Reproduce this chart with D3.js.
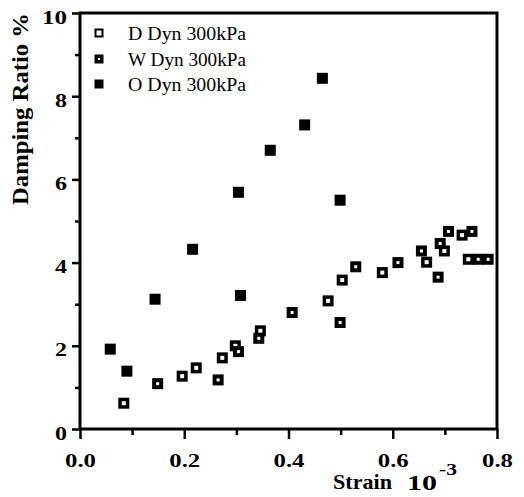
<!DOCTYPE html>
<html>
<head>
<meta charset="utf-8">
<script src="https://cdn.jsdelivr.net/npm/d3@7"></script>
<style>
  body { margin: 0; background: #fff; }
  svg { display: block; }
  text { font-family: "Liberation Serif", "Times New Roman", Times, "DejaVu Serif", serif; fill: #000; }
</style>
</head>
<body>
<svg id="chart" width="524" height="497"></svg>
<script>
const seriesNames = ["D Dyn 300kPa", "W Dyn 300kPa", "O Dyn 300kPa"];

// D Dyn 300kPa
const dStrain = [0.084, 0.196, 0.223, 0.273, 0.298, 0.346, 0.476, 0.503, 0.580, 0.665, 0.699, 0.733, 0.745];
const dDamp   = [0.62, 1.27, 1.47, 1.71, 2.00, 2.36, 3.08, 3.58, 3.76, 4.01, 4.28, 4.66, 4.08];

// W Dyn 300kPa
const wStrain = [0.149, 0.265, 0.304, 0.343, 0.407, 0.499, 0.529, 0.610, 0.655, 0.687, 0.691, 0.707, 0.752, 0.764, 0.783];
const wDamp   = [1.09, 1.18, 1.86, 2.18, 2.80, 2.56, 3.90, 4.00, 4.28, 3.65, 4.46, 4.75, 4.75, 4.08, 4.08];

// O Dyn 300kPa
const oStrain = [0.058, 0.090, 0.144, 0.216, 0.304, 0.308, 0.365, 0.431, 0.465, 0.499];
const oDamp   = [1.92, 1.39, 3.12, 4.32, 5.69, 3.21, 6.70, 7.31, 8.43, 5.50];

const xMajor = [0, 0.2, 0.4, 0.6, 0.8];
const yMajor = [0, 2, 4, 6, 8, 10];

const svg = d3.select("#chart");
const x = d3.scaleLinear().domain([0, 0.8]).range([80, 497]);
const y = d3.scaleLinear().domain([0, 10]).range([429, 13]);
const serif = "'Liberation Serif', 'Times New Roman', Times, 'DejaVu Serif', serif";

// frame
svg.append("rect")
  .attr("x", x(0)).attr("y", y(10))
  .attr("width", x(0.8) - x(0)).attr("height", y(0) - y(10))
  .attr("fill", "none").attr("stroke", "#000").attr("stroke-width", 3);

// x minor ticks
svg.append("g")
  .attr("transform", `translate(0,${y(0)})`)
  .call(d3.axisBottom(x).tickValues(d3.range(1, 8, 2).map(d => d / 10)).tickSize(6).tickFormat(""))
  .call(g => g.select(".domain").remove())
  .call(g => g.selectAll("line").attr("stroke-width", 2.5));

// x major ticks + labels
svg.append("g")
  .attr("transform", `translate(0,${y(0)})`)
  .attr("font-family", serif)
  .call(d3.axisBottom(x).tickValues(xMajor).tickSize(10).tickFormat(d3.format(".1f")))
  .call(g => g.attr("font-family", serif))
  .call(g => g.select(".domain").remove())
  .call(g => g.selectAll("line").attr("stroke-width", 2.5))
  .call(g => g.selectAll("text")
    .attr("y", 38).attr("dy", null)
    .attr("font-size", 18).attr("font-weight", "bold")
    .attr("textLength", 31).attr("lengthAdjust", "spacingAndGlyphs"));

// y minor ticks
svg.append("g")
  .attr("transform", `translate(${x(0)},0)`)
  .call(d3.axisLeft(y).tickValues([1, 3, 5, 7, 9]).tickSize(5).tickFormat(""))
  .call(g => g.select(".domain").remove())
  .call(g => g.selectAll("line").attr("stroke-width", 2.5));

// y major ticks + labels
svg.append("g")
  .attr("transform", `translate(${x(0)},0)`)
  .call(d3.axisLeft(y).tickValues(yMajor).tickSize(8).tickFormat(d3.format("d")))
  .call(g => g.attr("font-family", serif))
  .call(g => g.select(".domain").remove())
  .call(g => g.selectAll("line").attr("stroke-width", 2.5))
  .call(g => g.selectAll("text")
    .attr("x", -13).attr("y", 10).attr("dy", null)
    .attr("font-size", 19).attr("font-weight", "bold")
    .attr("textLength", d => d >= 10 ? 25 : 12).attr("lengthAdjust", "spacingAndGlyphs"));

// axis titles
svg.append("text")
  .attr("transform", "translate(28,109) rotate(-90)")
  .attr("text-anchor", "middle")
  .attr("font-size", 24).attr("font-weight", "bold")
  .attr("textLength", 192).attr("lengthAdjust", "spacingAndGlyphs")
  .text("Damping Ratio %");

svg.append("text")
  .attr("x", 333).attr("y", 489)
  .attr("font-size", 22).attr("font-weight", "bold")
  .attr("textLength", 59).attr("lengthAdjust", "spacingAndGlyphs")
  .text("Strain");
svg.append("text")
  .attr("x", 407).attr("y", 490)
  .attr("font-size", 21).attr("font-weight", "bold")
  .attr("textLength", 30).attr("lengthAdjust", "spacingAndGlyphs")
  .text("10");
svg.append("text")
  .attr("x", 439).attr("y", 475)
  .attr("font-size", 17).attr("font-weight", "bold")
  .attr("textLength", 18).attr("lengthAdjust", "spacingAndGlyphs")
  .text("-3");

// markers
function marker(g, cx, cy, size, inner) {
  g.append("rect")
    .attr("x", cx - size / 2).attr("y", cy - size / 2)
    .attr("width", size).attr("height", size)
    .attr("fill", "#000");
  if (inner > 0) {
    g.append("rect")
      .attr("x", cx - inner / 2).attr("y", cy - inner / 2)
      .attr("width", inner).attr("height", inner)
      .attr("fill", "#fff");
  }
}

const series = [
  { name: seriesNames[0], xs: dStrain, ys: dDamp, inner: 4, legInner: 5 },
  { name: seriesNames[1], xs: wStrain, ys: wDamp, inner: 3, legInner: 2 },
  { name: seriesNames[2], xs: oStrain, ys: oDamp, inner: 0, legInner: 0 }
];

const pts = svg.append("g");
series.forEach(s => {
  s.xs.forEach((v, i) => marker(pts, x(v), y(s.ys[i]), 11, s.inner));
});

// legend
const legY = [33, 59, 84];
const leg = svg.append("g");
series.forEach((s, i) => {
  marker(leg, 99, legY[i], 9, s.legInner);
  leg.append("text")
    .attr("x", 128).attr("y", legY[i] + 7)
    .attr("font-size", 18)
    .attr("textLength", 118).attr("lengthAdjust", "spacingAndGlyphs")
    .text(s.name);
});
</script>
</body>
</html>
